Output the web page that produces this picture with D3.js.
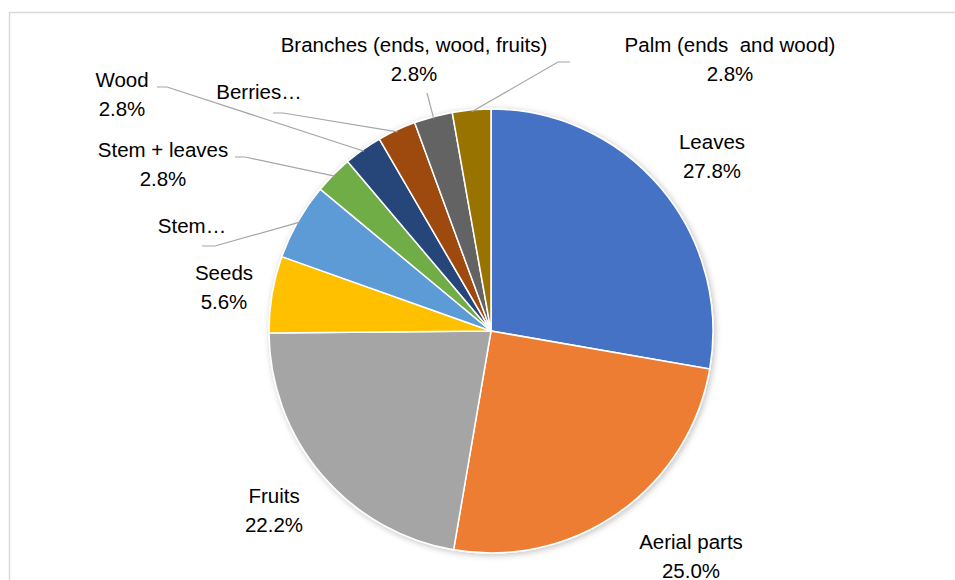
<!doctype html>
<html lang="en">
    <head>
        <meta charset="utf-8">
        <title>Plant parts pie</title>
        <script type="text/javascript" src="https://cdn.jsdelivr.net/npm/d3@7"></script>
        <style>
            body { margin: 0; background: #fff; }
            text { font-family: "Liberation Sans", Arial, sans-serif; font-size: 20.5px; fill: #000; white-space: pre; }
        </style>
    </head>
    <body>
        <script type="text/javascript">

            // data, clockwise from 12 o'clock
            var categories = ["Leaves", "Aerial parts", "Fruits", "Seeds", "Stem...", "Stem + leaves",
                              "Wood", "Berries...", "Branches (ends, wood, fruits)", "Palm (ends  and wood)"];
            var labelNames = ["Leaves", "Aerial parts", "Fruits", "Seeds", "Stem\u2026", "Stem + leaves",
                              "Wood", "Berries\u2026", "Branches (ends, wood, fruits)", "Palm (ends  and wood)"];
            var percents = [27.8, 25.0, 22.2, 5.6, 5.6, 2.8, 2.8, 2.8, 2.8, 2.8];
            var showPercent = [true, true, true, true, false, true, true, false, true, true];
            var colors = ["#4472C4", "#ED7D31", "#A5A5A5", "#FFC000", "#5B9BD5", "#70AD47",
                          "#264478", "#9E480E", "#636363", "#997300"];

            var svgW = 955;
            var svgH = 580;
            var cx = 491, cy = 331, radius = 222;

            // label layout: centre x, first baseline y, leader start / elbow (null = no leader)
            var labelLayout = [
                {x: 712, y: 149, lead: null},
                {x: 691, y: 549, lead: null},
                {x: 274, y: 503, lead: null},
                {x: 224, y: 280, lead: null},
                {x: 192, y: 233, lead: [[202, 246], [215, 246]]},
                {x: 163, y: 157, lead: [[235, 157], [245, 157]]},
                {x: 122, y: 87,  lead: [[157, 87], [167, 87]]},
                {x: 259, y: 99,  lead: [[273, 113], [283, 113]]},
                {x: 414, y: 52,  lead: [[427, 93]]},
                {x: 730, y: 52,  lead: [[570, 62], [558, 62]]}
            ];

            var svg = d3.select("body")
                        .append("svg")
                        .attr("width", svgW)
                        .attr("height", svgH);

            var defs = svg.append("defs");
            var shadow = defs.append("filter")
                             .attr("id", "shadow")
                             .attr("x", "-10%").attr("y", "-10%")
                             .attr("width", "120%").attr("height", "120%");
            shadow.append("feDropShadow")
                  .attr("dx", 1.5)
                  .attr("dy", 1.5)
                  .attr("stdDeviation", 3)
                  .attr("flood-color", "#000")
                  .attr("flood-opacity", 0.25);

            // chart frame
            svg.append("rect")
               .attr("x", 9.5)
               .attr("y", 12.5)
               .attr("width", svgW)
               .attr("height", svgH)
               .attr("fill", "#fff")
               .attr("stroke", "#d9d9d9")
               .attr("stroke-width", 1.5);

            var pie = d3.pie()
                        .sort(null)
                        .value(d => d);
            var arcs = pie(percents);

            var arc = d3.arc()
                        .innerRadius(0)
                        .outerRadius(radius);
            var edgeArc = d3.arc()
                            .innerRadius(radius - 2)
                            .outerRadius(radius - 2);

            var g = svg.append("g")
                       .attr("transform", "translate(" + cx + "," + cy + ")");

            g.append("g")
             .attr("filter", "url(#shadow)")
             .selectAll("path")
             .data(arcs)
             .enter()
             .append("path")
             .attr("d", arc)
             .attr("fill", d => colors[d.index])
             .attr("stroke", "#fff")
             .attr("stroke-width", 1.5)
             .attr("stroke-linejoin", "round");

            // leader lines
            svg.append("g")
               .selectAll("polyline")
               .data(arcs.filter(d => labelLayout[d.index].lead))
               .enter()
               .append("polyline")
               .attr("points", d => {
                   var p = edgeArc.centroid(d);
                   var pts = labelLayout[d.index].lead.concat([[p[0] + cx, p[1] + cy]]);
                   return pts.map(q => q.join(",")).join(" ");
               })
               .attr("fill", "none")
               .attr("stroke", "#a6a6a6")
               .attr("stroke-width", 1.2);

            // labels
            var labels = svg.append("g")
                            .selectAll("text")
                            .data(arcs)
                            .enter()
                            .append("text")
                            .attr("text-anchor", "middle")
                            .attr("x", d => labelLayout[d.index].x)
                            .attr("y", d => labelLayout[d.index].y);
            labels.append("tspan")
                  .attr("x", d => labelLayout[d.index].x)
                  .text(d => labelNames[d.index]);
            labels.filter(d => showPercent[d.index])
                  .append("tspan")
                  .attr("x", d => labelLayout[d.index].x)
                  .attr("dy", 28.5)
                  .text(d => percents[d.index].toFixed(1) + "%");
        </script>
    </body>
</html>
